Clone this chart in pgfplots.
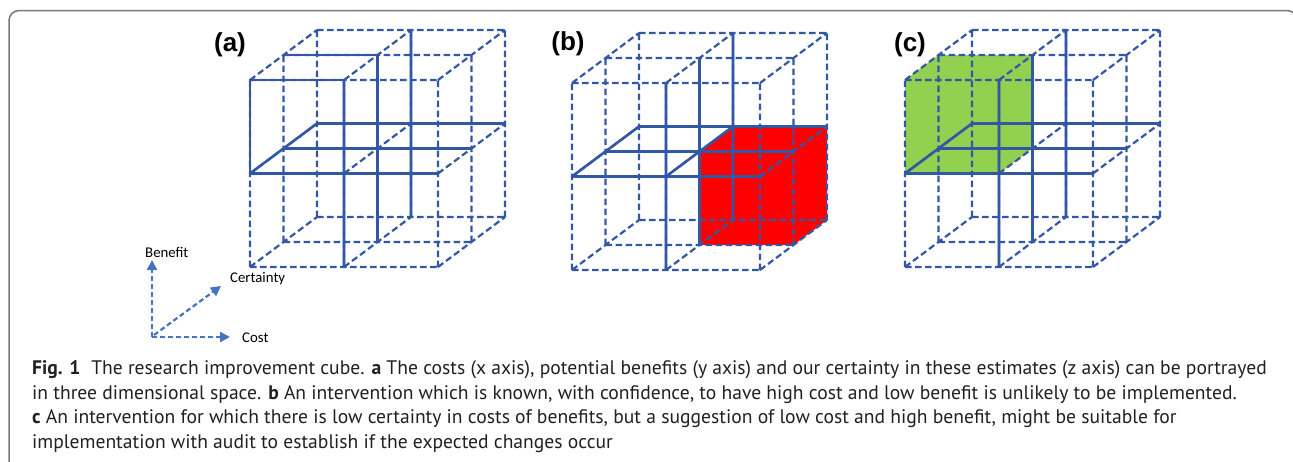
\documentclass[border=0pt]{standalone}
\usepackage{pgfplots}
\pgfplotsset{compat=1.18}
\usepackage{pgfplotstable}
\usetikzlibrary{arrows.meta}
\usepackage{fontspec}
\setmainfont{PT Sans}
\newfontfamily\labfont{Liberation Sans}
\newfontfamily\calfont{Carlito}
\definecolor{cubeblue}{RGB}{50,88,165}
\definecolor{arrowblue}{RGB}{68,114,196}
\definecolor{cubered}{RGB}{255,0,0}
\definecolor{cubegreen}{RGB}{146,208,80}
\definecolor{framegray}{RGB}{120,120,120}
\definecolor{captext}{RGB}{35,31,32}

% full 2x2x2 grid: x-lines, y-lines (vertical), z-lines (depth)
\pgfplotstableread{
x y z
0 0 0
2 0 0
nan nan nan
0 0 1
2 0 1
nan nan nan
0 0 2
2 0 2
nan nan nan
0 1 0
2 1 0
nan nan nan
0 1 1
2 1 1
nan nan nan
0 1 2
2 1 2
nan nan nan
0 2 0
2 2 0
nan nan nan
0 2 1
2 2 1
nan nan nan
0 2 2
2 2 2
nan nan nan
0 0 0
0 2 0
nan nan nan
1 0 0
1 2 0
nan nan nan
2 0 0
2 2 0
nan nan nan
0 0 1
0 2 1
nan nan nan
1 0 1
1 2 1
nan nan nan
2 0 1
2 2 1
nan nan nan
0 0 2
0 2 2
nan nan nan
1 0 2
1 2 2
nan nan nan
2 0 2
2 2 2
nan nan nan
0 0 0
0 0 2
nan nan nan
1 0 0
1 0 2
nan nan nan
2 0 0
2 0 2
nan nan nan
0 1 0
0 1 2
nan nan nan
1 1 0
1 1 2
nan nan nan
2 1 0
2 1 2
nan nan nan
0 2 0
0 2 2
nan nan nan
1 2 0
1 2 2
nan nan nan
2 2 0
2 2 2
}\gridtab

% solid lines common to all cubes
\pgfplotstableread{
x y z
0 1 0
2 1 0
nan nan nan
0 1 1
2 1 1
nan nan nan
0 1 2
2 1 2
nan nan nan
1 0 0
1 2 0
nan nan nan
1 0 1
1 2 1
nan nan nan
1 0 2
1 2 2
nan nan nan
0 1 0
0 1 2
}\solidtab

% extra solid edges of highlighted cell in (a)
\pgfplotstableread{
x y z
0 1 0
0 2 0
1 2 0
nan nan nan
0 2 1
1 2 1
}\solidA

% extra solid edge in (b)
\pgfplotstableread{
x y z
1 1 0
1 1 2
}\solidB

% red cell (b): x 1..2, y 0..1, z 1..2 (silhouette)
\pgfplotstableread{
x y z
1 0 1
1 1 1
1 1 2
2 1 2
2 0 2
2 0 1
}\redtab

% green cell (c): x 0..1, y 1..2, z 0..1 (silhouette)
\pgfplotstableread{
x y z
0 1 0
0 2 0
0 2 1
1 2 1
1 1 1
1 1 0
}\greentab

\newcommand\cx[1]{#1+94*\thisrow{x}+33.5*\thisrow{z}}
\newcommand\cy[1]{#1-93.5*\thisrow{y}-25*\thisrow{z}}

\tikzset{
  dline/.style={cubeblue, line width=2.2pt, dash pattern=on 6.5pt off 3.5pt},
  sline/.style={cubeblue, line width=2.6pt},
  arr/.style={arrowblue, line width=2.2pt, dash pattern=on 5pt off 3pt, -{Triangle[length=10pt,width=10pt]}},
}

\begin{document}
\begin{tikzpicture}
\begin{axis}[
  width=1293pt, height=461pt, scale only axis,
  xmin=0, xmax=1293, ymin=0, ymax=461, y dir=reverse,
  hide axis, clip=false, unbounded coords=jump,
]
% fills
\addplot[fill=cubered, draw=none] table[x expr=\cx{572}, y expr=\cy{270}] {\redtab};
\addplot[fill=cubegreen, draw=none] table[x expr=\cx{905}, y expr=\cy{267}] {\greentab};
% dashed grids
\addplot[dline] table[x expr=\cx{250}, y expr=\cy{267}] {\gridtab};
\addplot[dline] table[x expr=\cx{572}, y expr=\cy{270}] {\gridtab};
\addplot[dline] table[x expr=\cx{905}, y expr=\cy{267}] {\gridtab};
% solid lines
\addplot[sline] table[x expr=\cx{250}, y expr=\cy{267}] {\solidtab};
\addplot[sline] table[x expr=\cx{572}, y expr=\cy{270}] {\solidtab};
\addplot[sline] table[x expr=\cx{905}, y expr=\cy{267}] {\solidtab};
\addplot[sline] table[x expr=\cx{250}, y expr=\cy{267}] {\solidA};
\addplot[sline] table[x expr=\cx{572}, y expr=\cy{270}] {\solidB};

% orientation arrows
\addplot[arr] coordinates {(152,337) (152,260)};
\addplot[arr] coordinates {(154,335) (221,286)};
\addplot[arr] coordinates {(152,337) (230,337)};
\node[anchor=west, inner sep=0pt, font=\calfont\fontsize{14.8}{17}\selectfont] at (axis cs:145,252) {Benefit};
\node[anchor=west, inner sep=0pt, font=\calfont\fontsize{14.8}{17}\selectfont] at (axis cs:230,279) {Certainty};
\node[anchor=west, inner sep=0pt, font=\calfont\fontsize{14.8}{17}\selectfont] at (axis cs:242,338) {Cost};

% panel labels
\node[inner sep=0pt, font=\labfont\bfseries\fontsize{26}{30}\selectfont] at (axis cs:230,45) {(a)};
\node[inner sep=0pt, font=\labfont\bfseries\fontsize{26}{30}\selectfont] at (axis cs:568,44) {(b)};
\node[inner sep=0pt, font=\labfont\bfseries\fontsize{26}{30}\selectfont] at (axis cs:910,45) {(c)};

% caption
\begin{scope}[every node/.style={anchor=base west, inner sep=0pt, text=captext, font=\fontsize{19.6}{24}\selectfont}]
\node at (axis cs:32,374.5) {\textbf{Fig. 1}\hspace{0.55em}The research improvement cube. \textbf{a} The costs (x axis), potential benefits (y axis) and our certainty in these estimates (z axis) can be portrayed};
\node at (axis cs:32,399.2) {in three dimensional space. \textbf{b} An intervention which is known, with confidence, to have high cost and low benefit is unlikely to be implemented.};
\node at (axis cs:32,423.9) {\textbf{c} An intervention for which there is low certainty in costs of benefits, but a suggestion of low cost and high benefit, might be suitable for};
\node at (axis cs:32,448.6) {implementation with audit to establish if the expected changes occur};
\end{scope}

% frame
\draw[framegray, line width=1.5pt, rounded corners=10pt] (axis cs:9,475) -- (axis cs:9,10.5) -- (axis cs:1297,10.5) -- (axis cs:1297,40);
\end{axis}
\pgfresetboundingbox
\useasboundingbox (0,0) rectangle (1293pt,461pt);
\end{tikzpicture}
\end{document}
